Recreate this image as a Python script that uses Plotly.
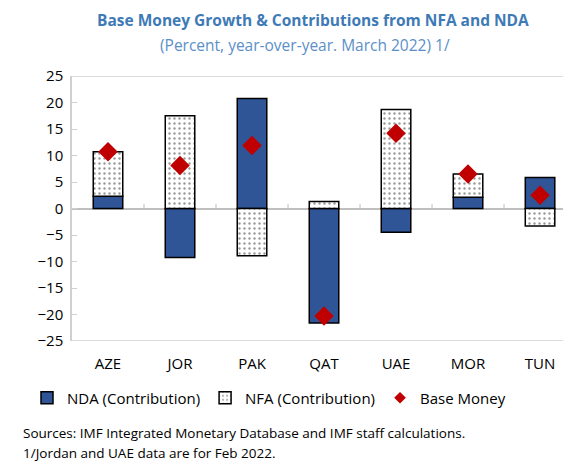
import plotly.graph_objects as go

categories = ["AZE", "JOR", "PAK", "QAT", "UAE", "MOR", "TUN"]
nda = [2.3, -9.25, 20.75, -21.6, -4.5, 2.1, 5.85]
nfa = [8.4, 17.5, -8.9, 1.3, 18.7, 4.4, -3.3]
base_money = [10.7, 8.1, 11.9, -20.3, 14.2, 6.5, 2.5]
y_ticks = [25, 20, 15, 10, 5, 0, -5, -10, -15, -20, -25]

FONT = "Open Sans"
OFF = 8  # page body margin
W, H = 571 - OFF, 462 - OFF
ML, MR, MT, MB = 72 - OFF, 0, 76 - OFF, 462 - 341


def py(ref_y):
    return (H - MB - (ref_y - OFF)) / (H - MT - MB)


def px(ref_x):
    return ((ref_x - OFF) - ML) / (W - ML - MR)


fig = go.Figure()
fig.add_trace(go.Bar(
    x=categories, y=nda, name="NDA (Contribution)", width=0.41,
    marker=dict(color="#2F5597", line=dict(color="black", width=1.5)),
))
fig.add_trace(go.Bar(
    x=categories, y=nfa, name="NFA (Contribution)", width=0.41,
    marker=dict(color="white", line=dict(color="black", width=1.5),
                pattern=dict(shape=".", fgcolor="#333333", bgcolor="white",
                             size=5, solidity=0.18)),
))
fig.add_trace(go.Scatter(
    x=categories, y=base_money, name="Base Money", mode="markers",
    marker=dict(symbol="diamond", size=15, color="#C00000"), showlegend=False,
))
fig.add_trace(go.Scatter(
    x=[None], y=[None], name="Base Money", mode="markers",
    marker=dict(symbol="diamond", size=9, color="#C00000"),
))

shapes = []
for i in range(len(categories) - 1):
    shapes.append(dict(type="line", xref="x", yref="y", x0=i + 0.5, x1=i + 0.5,
                       y0=0, y1=0.9, line=dict(color="#BFBFBF", width=1)))
for yv in (y_ticks[0], y_ticks[-1]):
    shapes.append(dict(type="line", xref="paper", yref="y", x0=0, x1=1, y0=yv, y1=yv,
                       line=dict(color="#D0D0D0", width=1.5)))

fig.update_layout(
    width=W, height=H,
    margin=dict(l=ML, r=MR, t=MT, b=MB, autoexpand=False),
    barmode="relative",
    plot_bgcolor="white", paper_bgcolor="white",
    font=dict(family=FONT, color="black"),
    shapes=shapes,
    showlegend=True,
    legend=dict(orientation="h", x=px(27), xanchor="left", y=py(398), yanchor="middle",
                font=dict(size=15, family=FONT), itemwidth=30,
                traceorder="normal", bgcolor="rgba(0,0,0,0)"),
)

fig.add_annotation(text="<b>Base Money Growth & Contributions from NFA and NDA</b>",
                   xref="paper", yref="paper", x=px(313), y=py(20), showarrow=False,
                   font=dict(size=15.5, color="#3E7AB6", family=FONT),
                   xanchor="center", yanchor="middle")
fig.add_annotation(text="(Percent, year-over-year. March 2022) 1/",
                   xref="paper", yref="paper", x=px(305), y=py(45), showarrow=False,
                   font=dict(size=15.5, color="#5B8FC8", family=FONT),
                   xanchor="center", yanchor="middle")
fig.add_annotation(text="Sources: IMF Integrated Monetary Database and IMF staff calculations.",
                   xref="paper", yref="paper", x=px(21), y=py(433), showarrow=False,
                   font=dict(size=13.5, color="black", family=FONT),
                   xanchor="left", yanchor="middle")
fig.add_annotation(text="1/Jordan and UAE data are for Feb 2022.",
                   xref="paper", yref="paper", x=px(21), y=py(453), showarrow=False,
                   font=dict(size=13.5, color="black", family=FONT),
                   xanchor="left", yanchor="middle")

fig.update_xaxes(
    type="category", categoryorder="array", categoryarray=categories,
    range=[-0.5, 6.43], showgrid=False, zeroline=False,
    showline=False, ticks="", tickfont=dict(size=15, family=FONT),
    anchor="free", position=0, ticklabelstandoff=12,
)
fig.update_yaxes(
    range=[-25, 25], tickvals=y_ticks, showgrid=False,
    zeroline=True, zerolinecolor="#BFBFBF", zerolinewidth=1.5,
    showline=True, linecolor="#D0D0D0", linewidth=1.5,
    ticks="inside", ticklen=5, tickcolor="#D0D0D0", tickwidth=1,
    tickfont=dict(size=15, family=FONT), ticklabelstandoff=4,
)

fig.write_html("out.html")
